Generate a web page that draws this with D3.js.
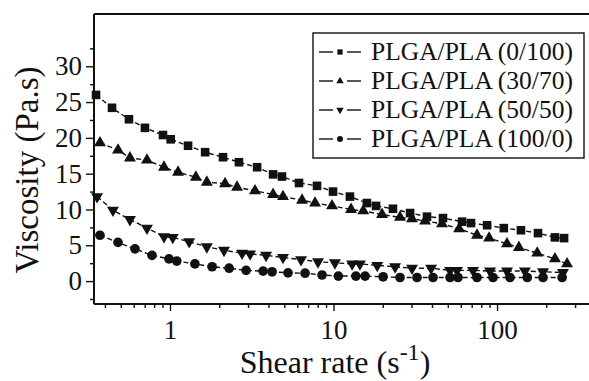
<!DOCTYPE html>
<html>
<head>
<meta charset="utf-8">
<script src="https://cdn.jsdelivr.net/npm/d3@7"></script>
<style>
  html, body { margin: 0; padding: 0; background: #fff; }
  svg { display: block; }
</style>
</head>
<body>
<svg id="chart" width="589" height="381"></svg>
<script>
// ---- data ----
const seriesNames = ["PLGA/PLA (0/100)", "PLGA/PLA (30/70)", "PLGA/PLA (50/50)", "PLGA/PLA (100/0)"];

const rate_0_100 = [0.353,0.442,0.561,0.703,0.906,1.01,1.29,1.64,2.11,2.64,3.41,4.27,4.84,6.15,7.93,9.93,12.6,16.0,18.2,23.1,29.4,37.3,46.7,61.1,69.3,86.9,110,140,178,226,257];
const visc_0_100 = [26.0,24.2,22.6,21.4,20.4,19.8,18.9,18.0,17.3,16.6,15.9,14.9,14.6,13.7,13.3,12.5,11.8,10.9,10.5,10.1,9.5,9.0,8.8,8.3,8.1,7.8,7.4,7.1,6.7,6.1,6.0];

const rate_30_70 = [0.373,0.481,0.569,0.723,0.919,1.12,1.44,1.68,2.17,2.57,3.31,4.27,4.91,6.42,7.71,9.79,12.8,15.2,19.8,25.5,30.2,36.3,46.1,58.6,75.4,89.4,115,136,176,226,268];
const visc_30_70 = [19.3,18.3,17.2,16.9,15.9,15.2,14.5,13.8,13.6,13.1,12.6,12.1,11.8,11.3,10.9,10.5,10.0,9.8,9.3,8.9,8.7,8.4,8.0,7.3,6.4,6.0,5.2,4.7,3.9,3.1,2.4];

const rate_50_50 = [0.358,0.448,0.569,0.723,0.919,1.04,1.31,1.68,2.14,2.76,3.09,3.87,4.91,6.33,8.04,10.2,13.0,14.5,18.5,23.8,30.2,39.5,51.6,56.9,71.3,90.6,115,148,191,253];
const visc_50_50 = [11.8,9.9,8.6,7.4,6.2,6.1,5.5,4.8,4.3,3.9,3.8,3.6,3.3,3.0,2.7,2.55,2.4,2.4,2.2,2.0,1.8,1.8,1.5,1.5,1.5,1.4,1.4,1.4,1.3,1.2];

const rate_100_0 = [0.373,0.481,0.611,0.776,0.986,1.10,1.42,1.81,2.30,2.92,3.71,4.21,5.27,6.70,8.51,10.7,13.7,15.6,20.1,25.5,32.4,40.6,51.6,57.7,75.4,94.5,120,153,191,250];
const visc_100_0 = [6.4,5.4,4.5,3.6,3.1,2.8,2.4,2.0,1.8,1.5,1.4,1.3,1.15,1.1,0.85,0.7,0.7,0.7,0.6,0.5,0.5,0.5,0.5,0.5,0.5,0.5,0.5,0.5,0.5,0.5];

const yTickValues = [0, 5, 10, 15, 20, 25, 30];
const yMinorValues = [-2.5, 2.5, 7.5, 12.5, 17.5, 22.5, 27.5, 32.5];
const xTickValues = [1, 10, 100];
const xMinorValues = [0.4,0.5,0.6,0.7,0.8,0.9,2,3,4,5,6,7,8,9,20,30,40,50,60,70,80,90,200,300];

// ---- layout ----
const FONT = "'Liberation Serif', Tinos, 'Times New Roman', 'DejaVu Serif', serif";
const svg = d3.select("#chart");
const L = 94, R = 589, T = 14, B = 304;

const x = d3.scaleLog().domain([0.343, 365]).range([L, R]);
const y = d3.scaleLinear().domain([-3.2, 37.3]).range([B, T]);

const series = [
  { name: seriesNames[0], rate: rate_0_100, visc: visc_0_100, sym: d3.symbolSquare, size: 74, rot: 0, lsize: 28 },
  { name: seriesNames[1], rate: rate_30_70, visc: visc_30_70, sym: d3.symbolTriangle, size: 62, rot: 0, lsize: 24 },
  { name: seriesNames[2], rate: rate_50_50, visc: visc_50_50, sym: d3.symbolTriangle, size: 62, rot: 180, lsize: 24 },
  { name: seriesNames[3], rate: rate_100_0, visc: visc_100_0, sym: d3.symbolCircle, size: 74, rot: 0, lsize: 28 }
];

// frame: top line
svg.append("line").attr("x1", L).attr("x2", R).attr("y1", T).attr("y2", T)
  .attr("stroke", "#111").attr("stroke-width", 2);

// axes
const yAxis = svg.append("g").attr("transform", `translate(${L},0)`)
  .call(d3.axisLeft(y).tickValues(yTickValues).tickSize(8).tickPadding(4).tickFormat(d3.format("d")));
const yMinor = svg.append("g").attr("transform", `translate(${L},0)`)
  .call(d3.axisLeft(y).tickValues(yMinorValues).tickSize(4).tickFormat(""));
const xAxis = svg.append("g").attr("transform", `translate(0,${B})`)
  .call(d3.axisBottom(x).tickValues(xTickValues).tickSize(7).tickPadding(9).tickFormat(d3.format("d")));
const xMinor = svg.append("g").attr("transform", `translate(0,${B})`)
  .call(d3.axisBottom(x).tickValues(xMinorValues).tickSize(4).tickFormat(""));

[yAxis, yMinor, xAxis, xMinor].forEach(g => {
  g.attr("font-family", null).attr("font-size", null);
  g.select(".domain").attr("stroke", "#111").attr("stroke-width", 2);
  g.selectAll(".tick line").attr("stroke", "#111").attr("stroke-width", 1.4);
  g.selectAll(".tick text").style("font-family", FONT).style("font-size", "27px").attr("fill", "#111");
});
yMinor.select(".domain").remove();
xMinor.select(".domain").remove();
yAxis.select(".domain").attr("d", `M0,${T}V${B}`);
xAxis.select(".domain").attr("d", `M${L},0H${R}`);

// series
const line = d3.line().x(d => x(d[0])).y(d => y(d[1]));
series.forEach(s => {
  const pts = s.rate.map((r, i) => [r, s.visc[i]]);
  svg.append("path").datum(pts).attr("d", line)
    .attr("fill", "none").attr("stroke", "#111").attr("stroke-width", 1.4)
    .attr("stroke-dasharray", "5,3");
  svg.append("g").selectAll("path").data(pts).join("path")
    .attr("d", d3.symbol().type(s.sym).size(s.size))
    .attr("transform", d => `translate(${x(d[0])},${y(d[1])}) rotate(${s.rot})`)
    .attr("fill", "#111");
});

// legend
const lg = svg.append("g");
lg.append("rect").attr("x", 313).attr("y", 33).attr("width", 271).attr("height", 125)
  .attr("fill", "#fff").attr("stroke", "#111").attr("stroke-width", 1.4);
series.forEach((s, i) => {
  const by = 60 + i * 29;
  const cy = by - 8;
  lg.append("line").attr("x1", 319).attr("x2", 333).attr("y1", cy).attr("y2", cy).attr("stroke", "#111").attr("stroke-width", 1.4);
  lg.append("line").attr("x1", 347).attr("x2", 361).attr("y1", cy).attr("y2", cy).attr("stroke", "#111").attr("stroke-width", 1.4);
  lg.append("path").attr("d", d3.symbol().type(s.sym).size(s.lsize)())
    .attr("transform", `translate(340,${cy}) rotate(${s.rot})`).attr("fill", "#111");
  lg.append("text").attr("x", 371).attr("y", by)
    .style("font-family", FONT).style("font-size", "25.5px").attr("fill", "#111").text(s.name);
});

// axis titles
svg.append("text").attr("transform", "translate(38,170) rotate(-90)")
  .attr("text-anchor", "middle").style("font-family", FONT).style("font-size", "33px")
  .attr("fill", "#111").text("Viscosity (Pa.s)");

const xt = svg.append("text").attr("x", 335).attr("y", 373).attr("text-anchor", "middle")
  .style("font-family", FONT).style("font-size", "32px").attr("fill", "#111");
xt.append("tspan").text("Shear rate (s");
xt.append("tspan").style("font-size", "24px").attr("dy", -13).text("-1");
xt.append("tspan").attr("dy", 13).text(")");
</script>
</body>
</html>
